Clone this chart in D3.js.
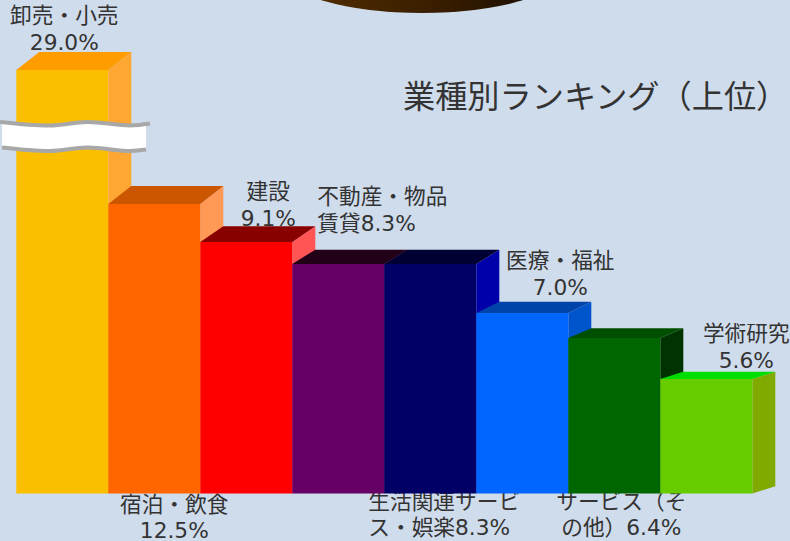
<!DOCTYPE html>
<html lang="ja">
<head>
<meta charset="utf-8">
<script src="https://cdn.jsdelivr.net/npm/d3@7/dist/d3.min.js"></script>
<style>
  html, body { margin: 0; padding: 0; background: #cfdcec; overflow: hidden; }
  text { font-family: "DejaVu Sans", "Noto Sans CJK JP", sans-serif; fill: #333; }
</style>
</head>
<body>
<svg id="chart" width="790" height="541"></svg>
<script>
// Industry ranking: share of businesses per industry (%)
const title = "業種別ランキング（上位）";
const categories = ["卸売・小売", "宿泊・飲食", "建設", "不動産・物品賃貸", "生活関連サービス・娯楽", "医療・福祉", "サービス（その他）", "学術研究"];
const values = [29.0, 12.5, 9.1, 8.3, 8.3, 7.0, 6.4, 5.6];
const labelLines = [
  ["卸売・小売", "29.0%"],
  ["宿泊・飲食", "12.5%"],
  ["建設", "9.1%"],
  ["不動産・物品", "賃貸8.3%"],
  ["生活関連サービ", "ス・娯楽8.3%"],
  ["医療・福祉", "7.0%"],
  ["サービス（そ", "の他）6.4%"],
  ["学術研究", "5.6%"]
];
const frontColors = ["#fbbf00", "#ff6600", "#ff0000", "#660066", "#000066", "#0066ff", "#006600", "#66cc00"];
const topColors   = ["#ff9c00", "#cc5500", "#880000", "#220018", "#000033", "#0044aa", "#004f00", "#00dd00"];
const sideColors  = ["#ffa733", "#ff9955", "#ff5555", "#440044", "#0000aa", "#0055cc", "#003300", "#80aa00"];

const svg = d3.select("#chart");
const baseY = 493.5;
const depthX = 23;

// The value axis is stretched unevenly, so the scale is piecewise between the shown values
const y = d3.scaleLinear()
  .domain([5.6, 6.4, 7.0, 8.3, 9.1, 12.5, 29.0])
  .range([379, 338, 313, 264, 242, 204, 70]);

const x = d3.scaleBand()
  .domain(d3.range(values.length))
  .range([16.3, 752.3])
  .padding(0);

// Shallower bars get a flatter top face; the depth stops growing for the tallest ones
const depthY = v => Math.min(baseY - y(v), 289) / 16;

// Backdrop disc peeking in from the top edge
const defs = svg.append("defs");
const discGrad = defs.append("linearGradient").attr("id", "disc");
discGrad.append("stop").attr("offset", "0%").attr("stop-color", "#553000");
discGrad.append("stop").attr("offset", "60%").attr("stop-color", "#361c00");
discGrad.append("stop").attr("offset", "100%").attr("stop-color", "#140a00");
svg.append("ellipse")
  .attr("cx", 422).attr("cy", -27).attr("rx", 137).attr("ry", 40)
  .attr("fill", "url(#disc)");

svg.append("text")
  .attr("x", 403).attr("y", 108)
  .attr("font-size", 32.2)
  .text(title);

// Labels sit underneath the bars, which may clip them slightly
const placement = [
  { dx: 2,    y: 23,  gap: 27, anchor: "middle" },
  { dx: 20,   y: 512, gap: 26, anchor: "middle" },
  { dx: 22,   y: 199, gap: 27, anchor: "middle" },
  { dx: -21,  y: 204, gap: 27, anchor: "start"  },
  { dx: -62,  y: 509, gap: 26, anchor: "start"  },
  { dx: 38,   y: 268, gap: 27, anchor: "middle" },
  { dx: 7,    y: 509, gap: 26, anchor: "middle" },
  { dx: 40,   y: 341, gap: 27, anchor: "middle" }
];
const labels = svg.append("g").selectAll("text")
  .data(labelLines)
  .join("text")
  .attr("font-size", 21.7)
  .attr("text-anchor", (d, i) => placement[i].anchor)
  .attr("y", (d, i) => placement[i].y);
labels.selectAll("tspan")
  .data((d, i) => d.map(line => ({ line, i })))
  .join("tspan")
  .attr("x", d => x(d.i) + x.bandwidth() / 2 + placement[d.i].dx)
  .attr("dy", (d, j) => j ? placement[d.i].gap : 0)
  .text(d => d.line);

// Bars are painted left to right so each one covers the side of its neighbour
const poly = pts => pts.map(p => p.join(",")).join(" ");
const bars = svg.append("g").selectAll("g")
  .data(values.map((v, i) => ({ v, i, name: categories[i] })))
  .join("g");

bars.append("polygon") // side face
  .attr("fill", d => sideColors[d.i])
  .attr("points", d => {
    const r = x(d.i) + x.bandwidth(), t = y(d.v), dy = depthY(d.v);
    return poly([[r, t], [r + depthX, t - dy], [r + depthX, baseY - dy], [r, baseY]]);
  });
bars.append("polygon") // top face
  .attr("fill", d => topColors[d.i])
  .attr("points", d => {
    const l = x(d.i), r = l + x.bandwidth(), t = y(d.v), dy = depthY(d.v);
    return poly([[l, t], [l + depthX, t - dy], [r + depthX, t - dy], [r, t]]);
  });
bars.append("rect") // front face
  .attr("fill", d => frontColors[d.i])
  .attr("x", d => x(d.i))
  .attr("y", d => y(d.v))
  .attr("width", x.bandwidth())
  .attr("height", d => baseY - y(d.v));

// Axis-break band across the tallest bar
const waveX = [2, 50, 87, 130, 146];
const waveOffset = [0, 3.5, 0, 3.5, 2];
const waveTop = 122, waveBottom = 147.5;
const edge = d3.line().curve(d3.curveCatmullRom);
const upper = waveX.map((wx, i) => [wx, waveTop + waveOffset[i]]);
const lower = waveX.map((wx, i) => [wx, waveBottom + waveOffset[i]]);
const upperStroke = [[0, waveTop], ...upper.slice(1, 4), [150, waveTop + 1.5]];
svg.append("path")
  .attr("fill", "#fff")
  .attr("d", edge(upper) + "L" + edge(lower.slice().reverse()).slice(1) + "Z");
svg.append("path")
  .attr("fill", "none").attr("stroke", "#a8a8a8").attr("stroke-width", 4)
  .attr("d", edge(upperStroke));
svg.append("path")
  .attr("fill", "none").attr("stroke", "#a8a8a8").attr("stroke-width", 4)
  .attr("d", edge(lower));
</script>
</body>
</html>
